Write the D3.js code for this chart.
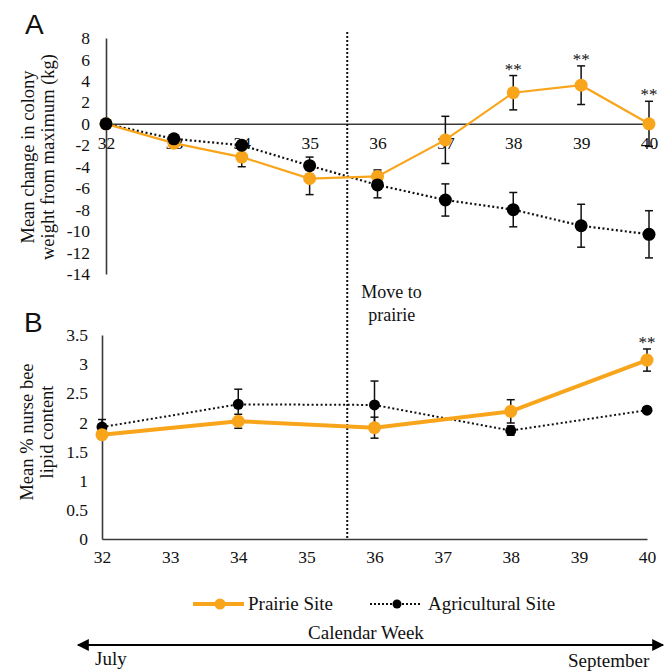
<!DOCTYPE html>
<html>
<head>
<meta charset="utf-8">
<script src="https://cdn.jsdelivr.net/npm/d3@7"></script>
<style>
  body { margin: 0; background: #fff; }
  text { font-family: "Liberation Serif", "Times New Roman", serif; fill: #111; }
</style>
</head>
<body>
<div id="chart"></div>
<script>
// calendar weeks
var WEEKS_A = [32, 33, 34, 35, 36, 37, 38, 39, 40];
var WEEKS_B = [32, 34, 36, 38, 40];

// panel A: change in colony weight (kg)
var prairieA = [0, -1.8, -3.1, -5.1, -4.9, -1.5, 2.9, 3.6, 0];
var prairieAErr = [0, 0.4, 0.9, 1.5, 0.6, 2.2, 1.6, 1.8, 2.1];
var agriA = [0, -1.4, -2.0, -3.9, -5.7, -7.1, -8.0, -9.5, -10.3];
var agriAErr = [0, 0.3, 0.4, 0.8, 1.2, 1.5, 1.6, 2.0, 2.2];
var starsA = [38, 39, 40];

// panel B: nurse bee lipid content (%)
var prairieB = [1.79, 2.02, 1.91, 2.19, 3.07];
var prairieBErr = [0.08, 0.12, 0.18, 0.2, 0.19];
var agriB = [1.92, 2.31, 2.30, 1.86, 2.21];
var agriBErr = [0.13, 0.26, 0.41, 0.08, 0.05];
var starsB = [40];

var TICKS_A = d3.range(-14, 9, 2);
var TICKS_B = [0, 0.5, 1, 1.5, 2, 2.5, 3, 3.5];
var MOVE_WEEK = 35.6;

var ORANGE = "#f8a51b";
var AXIS = "#3a3a3a";

var svg = d3.select("#chart").append("svg")
    .attr("width", 672)
    .attr("height", 671);

var xA = d3.scaleLinear().domain([32, 40]).range([106, 649]);
var yA = d3.scaleLinear().domain([-14, 8]).range([274, 38]);
var xB = d3.scaleLinear().domain([32, 40]).range([102, 647]);
var yB = d3.scaleLinear().domain([0, 3.5]).range([539, 335]);

function plain(d) { return String(d); }

function styleAxis(g) {
    g.attr("font-family", null);
    g.select(".domain").attr("stroke", AXIS).attr("stroke-width", 1.6);
    g.selectAll("text")
        .style("font-family", "'Liberation Serif', serif")
        .style("font-size", "17.5px")
        .attr("fill", "#111");
}

// ---- panel A axes
svg.append("g")
    .attr("transform", "translate(" + xA(32) + ",0)")
    .call(d3.axisLeft(yA).tickValues(TICKS_A).tickSize(0).tickPadding(16).tickFormat(plain))
    .call(styleAxis);

svg.append("g")
    .attr("transform", "translate(0," + yA(0) + ")")
    .call(d3.axisBottom(xA).tickValues(WEEKS_A).tickSize(0).tickPadding(13).tickFormat(plain))
    .call(styleAxis);

// ---- panel B axes
svg.append("g")
    .attr("transform", "translate(" + xB(32) + ",0)")
    .call(d3.axisLeft(yB).tickValues(TICKS_B).tickSize(0).tickPadding(14).tickFormat(plain))
    .call(styleAxis);

svg.append("g")
    .attr("transform", "translate(0," + yB(0) + ")")
    .call(d3.axisBottom(xB).tickValues(WEEKS_A).tickSize(0).tickPadding(12).tickFormat(plain))
    .call(styleAxis);

// move to prairie line
svg.append("line")
    .attr("x1", xB(MOVE_WEEK)).attr("x2", xB(MOVE_WEEK))
    .attr("y1", yA(8) - 6).attr("y2", yB(0))
    .attr("stroke", "#111")
    .attr("stroke-width", 2)
    .attr("stroke-dasharray", "2,2");

svg.append("text")
    .attr("x", xB(MOVE_WEEK) + 14).attr("y", 298)
    .style("font-size", "18px")
    .text("Move to");
svg.append("text")
    .attr("x", xB(MOVE_WEEK) + 21).attr("y", 321)
    .style("font-size", "18px")
    .text("prairie");

function drawSeries(x, y, weeks, vals, errs, opts) {
    var pts = weeks.map(function(w, i) { return { w: w, v: vals[i], e: errs[i] }; });
    var line = d3.line().x(function(d) { return x(d.w); }).y(function(d) { return y(d.v); });
    svg.append("path")
        .datum(pts)
        .attr("d", line)
        .attr("fill", "none")
        .attr("stroke", opts.color)
        .attr("stroke-width", opts.width)
        .attr("stroke-dasharray", opts.dash || null);
    return pts;
}

function drawErrors(x, y, pts) {
    var g = svg.append("g").attr("stroke", "#111").attr("stroke-width", 1.5);
    pts.filter(function(d) { return d.e > 0; }).forEach(function(d) {
        var cx = x(d.w);
        g.append("line").attr("x1", cx).attr("x2", cx)
            .attr("y1", y(d.v + d.e)).attr("y2", y(d.v - d.e));
        g.append("line").attr("x1", cx - 4).attr("x2", cx + 4)
            .attr("y1", y(d.v + d.e)).attr("y2", y(d.v + d.e));
        g.append("line").attr("x1", cx - 4).attr("x2", cx + 4)
            .attr("y1", y(d.v - d.e)).attr("y2", y(d.v - d.e));
    });
}

function drawDots(x, y, pts, color, r) {
    svg.append("g").selectAll("circle")
        .data(pts)
        .enter().append("circle")
        .attr("cx", function(d) { return x(d.w); })
        .attr("cy", function(d) { return y(d.v); })
        .attr("r", r)
        .attr("fill", color);
}

function drawStars(x, y, weeks, weeksAll, vals, errs, off) {
    weeks.forEach(function(w) {
        var i = weeksAll.indexOf(w);
        svg.append("text")
            .attr("x", x(w)).attr("y", y(vals[i] + errs[i]) - off)
            .attr("text-anchor", "middle")
            .style("font-size", "17px")
            .attr("fill", "#333")
            .text("**");
    });
}

// ---- panel A series
var agA = drawSeries(xA, yA, WEEKS_A, agriA, agriAErr, { color: "#111", width: 2.2, dash: "2,2.5" });
var prA = drawSeries(xA, yA, WEEKS_A, prairieA, prairieAErr, { color: ORANGE, width: 2.2 });
drawErrors(xA, yA, prA);
drawErrors(xA, yA, agA);
drawDots(xA, yA, prA, ORANGE, 6.5);
drawDots(xA, yA, agA, "#000", 6.5);
drawStars(xA, yA, starsA, WEEKS_A, prairieA, prairieAErr, 1);

// ---- panel B series
var agB = drawSeries(xB, yB, WEEKS_B, agriB, agriBErr, { color: "#111", width: 2, dash: "2,2.5" });
var prB = drawSeries(xB, yB, WEEKS_B, prairieB, prairieBErr, { color: ORANGE, width: 4 });
drawErrors(xB, yB, agB);
drawErrors(xB, yB, prB);
drawDots(xB, yB, agB, "#000", 5.5);
drawDots(xB, yB, prB, ORANGE, 6.5);
drawStars(xB, yB, starsB, WEEKS_B, prairieB, prairieBErr, 1);

// ---- axis titles
function yTitle(cx, cy, lines) {
    var t = svg.append("text")
        .attr("transform", "translate(" + cx + "," + cy + ") rotate(-90)")
        .attr("text-anchor", "middle")
        .style("font-size", "18.5px");
    lines.forEach(function(s, i) {
        t.append("tspan").attr("x", 0).attr("dy", i === 0 ? 0 : 20).text(s);
    });
}
yTitle(34, 157, ["Mean change in colony", "weight from maximum (kg)"]);
yTitle(33, 432, ["Mean % nurse bee", "lipid content"]);

// panel letters
svg.append("text").attr("x", 25).attr("y", 34)
    .style("font-family", "'Liberation Sans', Arial, sans-serif").style("font-size", "28px").text("A");
svg.append("text").attr("x", 24).attr("y", 332)
    .style("font-family", "'Liberation Sans', Arial, sans-serif").style("font-size", "28px").text("B");

// ---- legend
var lg = svg.append("g");
lg.append("line").attr("x1", 193).attr("x2", 244).attr("y1", 604).attr("y2", 604)
    .attr("stroke", ORANGE).attr("stroke-width", 4);
lg.append("circle").attr("cx", 220).attr("cy", 604).attr("r", 5.5).attr("fill", ORANGE);
lg.append("text").attr("x", 248).attr("y", 610).style("font-size", "19px").text("Prairie Site");
lg.append("line").attr("x1", 370).attr("x2", 422).attr("y1", 604).attr("y2", 604)
    .attr("stroke", "#111").attr("stroke-width", 2).attr("stroke-dasharray", "2,2");
lg.append("circle").attr("cx", 397).attr("cy", 604).attr("r", 4.5).attr("fill", "#000");
lg.append("text").attr("x", 428).attr("y", 610).style("font-size", "19px").text("Agricultural Site");

// ---- calendar arrow
var defs = svg.append("defs");
defs.append("marker").attr("id", "arr").attr("viewBox", "0 0 10 10")
    .attr("refX", 9).attr("refY", 5)
    .attr("markerWidth", 7).attr("markerHeight", 6)
    .attr("orient", "auto-start-reverse")
    .append("path").attr("d", "M0,0 L10,5 L0,10 Z").attr("fill", "#000");

svg.append("line")
    .attr("x1", 78).attr("x2", 663).attr("y1", 645).attr("y2", 645)
    .attr("stroke", "#000").attr("stroke-width", 2)
    .attr("marker-start", "url(#arr)").attr("marker-end", "url(#arr)");

svg.append("text").attr("x", 366).attr("y", 639).attr("text-anchor", "middle")
    .style("font-size", "19px").text("Calendar Week");
svg.append("text").attr("x", 95).attr("y", 665).style("font-size", "19px").text("July");
svg.append("text").attr("x", 568).attr("y", 667).style("font-size", "19px").text("September");
</script>
</body>
</html>
